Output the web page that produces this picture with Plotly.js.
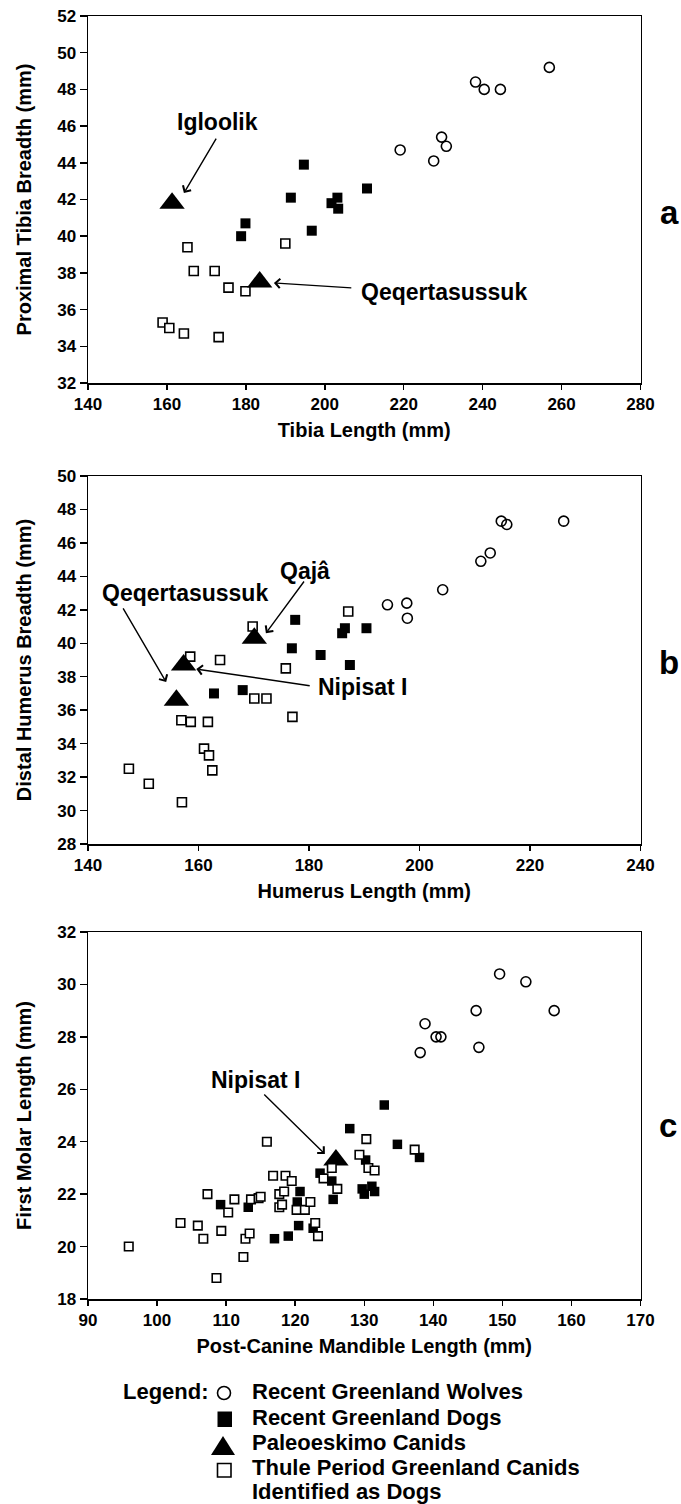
<!DOCTYPE html>
<html>
<head>
<meta charset="utf-8">
<script src="https://cdn.plot.ly/plotly-3.0.1.min.js"></script>
<style>
  html, body { margin: 0; padding: 0; background: #ffffff; }
  #chart { width: 681px; height: 1504px; }
</style>
</head>
<body>
<div id="chart"></div>
<script>
// ---------------- DATA ----------------
// Panel a: Tibia length (mm) vs proximal tibia breadth (mm)
const aWolfLen  = [219.1, 227.6, 229.6, 230.8, 238.2, 240.4, 244.5, 256.9];
const aWolfBr   = [44.7, 44.1, 45.4, 44.9, 48.4, 48.0, 48.0, 49.2];
const aDogLen   = [194.7, 191.4, 203.2, 201.7, 203.4, 210.7, 196.7, 179.9, 178.8];
const aDogBr    = [43.9, 42.1, 42.1, 41.8, 41.5, 42.6, 40.3, 40.7, 40.0];
const aThuleLen = [165.2, 166.8, 172.1, 175.6, 179.9, 190.0, 158.9, 160.6, 164.3, 173.1];
const aThuleBr  = [39.4, 38.1, 38.1, 37.2, 37.0, 39.6, 35.3, 35.0, 34.7, 34.5];
const aPaleoLen = [161.3, 183.5];
const aPaleoBr  = [41.8, 37.5];

// Panel b: Humerus length (mm) vs distal humerus breadth (mm)
const bWolfLen  = [194.2, 197.7, 197.8, 204.2, 211.1, 212.8, 214.8, 215.8, 226.1];
const bWolfBr   = [42.3, 42.4, 41.5, 43.2, 44.9, 45.4, 47.3, 47.1, 47.3];
const bDogLen   = [177.5, 176.9, 182.1, 186.5, 186.0, 190.4, 187.4, 168.0, 162.8];
const bDogBr    = [41.4, 39.7, 39.3, 40.9, 40.6, 40.9, 38.7, 37.2, 37.0];
const bThuleLen = [169.8, 187.1, 158.5, 163.9, 175.8, 170.1, 172.3, 177.0, 156.9, 158.6, 161.7, 161.0, 161.9, 162.5, 147.4, 151.0, 157.0];
const bThuleBr  = [41.0, 41.9, 39.2, 39.0, 38.5, 36.7, 36.7, 35.6, 35.4, 35.3, 35.3, 33.7, 33.3, 32.4, 32.5, 31.6, 30.5];
const bPaleoLen = [170.1, 157.3, 156.0];
const bPaleoBr  = [40.3, 38.7, 36.6];

// Panel c: Post-canine mandible length (mm) vs first molar length (mm)
const cWolfLen  = [149.6, 153.4, 146.2, 157.5, 138.8, 140.4, 141.1, 138.1, 146.6];
const cWolfM1   = [30.4, 30.1, 29.0, 29.0, 28.5, 28.0, 28.0, 27.4, 27.6];
const cDogLen   = [132.9, 127.9, 134.8, 138.0, 130.2, 123.6, 125.3, 125.5, 129.7, 130.0, 131.1, 131.5, 120.7, 120.3, 120.5, 122.6, 119.0, 117.0, 109.2, 113.2];
const cDogM1    = [25.4, 24.5, 23.9, 23.4, 23.3, 22.8, 22.5, 21.8, 22.2, 22.0, 22.3, 22.1, 22.1, 21.7, 20.8, 20.7, 20.4, 20.3, 21.6, 21.5];
const cThuleLen = [95.9, 103.4, 105.9, 106.7, 107.3, 109.3, 110.3, 111.2, 108.6, 112.5, 112.8, 113.4, 113.6, 114.7, 115.0, 115.9, 116.8, 118.6, 119.5, 117.7, 118.4, 117.7, 118.1, 120.2, 121.4, 122.2, 122.9, 123.3, 124.1, 125.3, 126.1, 129.3, 130.3, 130.6, 131.5, 137.3];
const cThuleM1  = [20.0, 20.9, 20.8, 20.3, 22.0, 20.6, 21.3, 21.8, 18.8, 19.6, 20.3, 20.5, 21.8, 21.85, 21.9, 24.0, 22.7, 22.7, 22.5, 22.0, 22.1, 21.5, 21.6, 21.4, 21.4, 21.7, 20.9, 20.4, 22.6, 23.0, 22.2, 23.5, 24.1, 23.0, 22.9, 23.7];
const cPaleoLen = [125.9];
const cPaleoM1  = [23.3];

// Tick values (labels are the same numbers)
const aXTicks = [140, 160, 180, 200, 220, 240, 260, 280];
const aYTicks = [32, 34, 36, 38, 40, 42, 44, 46, 48, 50, 52];
const bXTicks = [140, 160, 180, 200, 220, 240];
const bYTicks = [28, 30, 32, 34, 36, 38, 40, 42, 44, 46, 48, 50];
const cXTicks = [90, 100, 110, 120, 130, 140, 150, 160, 170];
const cYTicks = [18, 20, 22, 24, 26, 28, 30, 32];

// Titles / labels
const axisTitles = {
  a: ['Tibia Length (mm)', 'Proximal Tibia Breadth (mm)'],
  b: ['Humerus Length (mm)', 'Distal Humerus Breadth (mm)'],
  c: ['Post-Canine Mandible Length (mm)', 'First Molar Length (mm)']
};
const legendLabels = ['Recent Greenland Wolves', 'Recent Greenland Dogs', 'Paleoeskimo Canids',
                      'Thule Period Greenland Canids', 'Identified as Dogs'];

// ---------------- STYLE ----------------
const FONT = 'Liberation Sans, Arial, Helvetica, sans-serif';
const W = 681, H = 1504;
const px = v => v / W;            // page x px -> paper
const py = v => 1 - v / H;        // page y px -> paper

const wolfM  = s => ({symbol: 'circle-open', size: s, color: 'black', line: {width: 1.6, color: 'black'}});
const dogM   = s => ({symbol: 'square', size: s, color: 'black', line: {width: 0}});
const thuleM = s => ({symbol: 'square', size: s, color: 'white', line: {width: 1.6, color: 'black'}});
const paleoM = s => ({symbol: 'triangle-up', size: s, color: 'black', line: {width: 0}});

function tr(x, y, marker, xa, ya) {
  return {type: 'scatter', mode: 'markers', x: x, y: y, marker: marker,
          xaxis: xa, yaxis: ya, hoverinfo: 'x+y', showlegend: false, cliponaxis: false};
}

const data = [
  // a
  tr(aWolfLen, aWolfBr, wolfM(10), 'x', 'y'),
  tr(aDogLen, aDogBr, dogM(10), 'x', 'y'),
  tr(aThuleLen, aThuleBr, thuleM(9), 'x', 'y'),
  tr(aPaleoLen, aPaleoBr, paleoM(22), 'x', 'y'),
  // b
  tr(bWolfLen, bWolfBr, wolfM(10), 'x2', 'y2'),
  tr(bDogLen, bDogBr, dogM(10), 'x2', 'y2'),
  tr(bThuleLen, bThuleBr, thuleM(9), 'x2', 'y2'),
  tr(bPaleoLen, bPaleoBr, paleoM(22), 'x2', 'y2'),
  // c
  tr(cWolfLen, cWolfM1, wolfM(10), 'x3', 'y3'),
  tr(cDogLen, cDogM1, dogM(9.5), 'x3', 'y3'),
  tr(cPaleoLen, cPaleoM1, paleoM(22), 'x3', 'y3'),
  tr(cThuleLen, cThuleM1, thuleM(8.5), 'x3', 'y3')
];

const tickFont = {family: FONT, size: 17, color: 'black', weight: 700};
const titleFont = {family: FONT, size: 20, color: 'black', weight: 700};
const XDOM = [px(88), px(640.5)];
const boldText = vals => vals.map(v => '<b>' + v + '</b>');

function xax(range, ticks, title, anchor) {
  return {domain: XDOM, range: range, tickmode: 'array', tickvals: ticks, ticktext: boldText(ticks),
          anchor: anchor,
          showline: true, mirror: true, linecolor: 'black', linewidth: 1.5,
          ticks: 'outside', ticklen: 5, tickwidth: 1.5, tickcolor: 'black',
          showgrid: false, zeroline: false, tickfont: tickFont,
          title: {text: title, font: titleFont, standoff: 10}};
}
function yax(range, ticks, title, anchor, dom) {
  return {domain: dom, range: range, tickmode: 'array', tickvals: ticks, ticktext: boldText(ticks),
          anchor: anchor,
          showline: true, mirror: true, linecolor: 'black', linewidth: 1.5,
          ticks: 'outside', ticklen: 7, tickwidth: 1.5, tickcolor: 'black',
          showgrid: false, zeroline: false, tickfont: tickFont,
          title: {text: title, font: titleFont, standoff: 20}};
}

const annFont = {family: FONT, size: 23, color: 'black', weight: 700};
function label(xr, yr, x, y, text) {
  return {xref: xr, yref: yr, x: x, y: y, text: text, showarrow: false, font: annFont,
          xanchor: 'center', yanchor: 'middle'};
}
function arrow(xr, yr, tipX, tipY, tailX, tailY) {
  return {xref: xr, yref: yr, axref: xr, ayref: yr, x: tipX, y: tipY, ax: tailX, ay: tailY,
          text: '', showarrow: true, arrowhead: 4, arrowsize: 1.3, arrowwidth: 1.4,
          arrowcolor: 'black'};
}

const legFont = {family: FONT, size: 22, color: 'black', weight: 700};
const legRows = [1391, 1417, 1442, 1467, 1491];

const annotations = [
  // panel a
  label('x', 'y', 172.9, 46.2, 'Igloolik'),
  arrow('x', 'y', 164.3, 42.35, 172.7, 45.4),
  label('x', 'y', 230.1, 36.96, 'Qeqertasussuk'),
  arrow('x', 'y', 187.1, 37.45, 207.1, 37.18),
  // panel b
  label('x2', 'y2', 179.3, 44.35, 'Qajâ'),
  arrow('x2', 'y2', 172.2, 40.6, 179.3, 43.78),
  label('x2', 'y2', 157.6, 43.0, 'Qeqertasussuk'),
  arrow('x2', 'y2', 154.15, 37.68, 146.2, 42.17),
  label('x2', 'y2', 189.6, 37.39, 'Nipisat I'),
  arrow('x2', 'y2', 159.6, 38.46, 180.4, 37.45),
  // panel c
  label('x3', 'y3', 114.3, 26.35, 'Nipisat I'),
  arrow('x3', 'y3', 124.3, 23.53, 115.3, 25.86),
  // panel letters
  {xref: 'paper', yref: 'paper', x: px(669), y: py(212), text: 'a', showarrow: false,
   font: {family: FONT, size: 33, color: 'black', weight: 700}, xanchor: 'center', yanchor: 'middle'},
  {xref: 'paper', yref: 'paper', x: px(669), y: py(662), text: 'b', showarrow: false,
   font: {family: FONT, size: 33, color: 'black', weight: 700}, xanchor: 'center', yanchor: 'middle'},
  {xref: 'paper', yref: 'paper', x: px(668), y: py(1125), text: 'c', showarrow: false,
   font: {family: FONT, size: 33, color: 'black', weight: 700}, xanchor: 'center', yanchor: 'middle'},
  // legend text
  {xref: 'paper', yref: 'paper', x: px(211), y: py(legRows[0]), text: 'Legend:', showarrow: false,
   font: legFont, xanchor: 'right', yanchor: 'middle'}
];
legendLabels.forEach((t, i) => {
  annotations.push({xref: 'paper', yref: 'paper', x: px(250), y: py(legRows[i]), text: t,
    showarrow: false, font: legFont, xanchor: 'left', yanchor: 'middle'});
});

// legend keys (shapes in paper coordinates)
const shapes = [
  {type: 'circle', xref: 'paper', yref: 'paper', x0: px(217.5), x1: px(230.5), y0: py(1399.5), y1: py(1386.5),
   line: {color: 'black', width: 1.6}, fillcolor: 'white'},
  {type: 'rect', xref: 'paper', yref: 'paper', x0: px(217.5), x1: px(232), y0: py(1427), y1: py(1411.5),
   line: {width: 0}, fillcolor: 'black'},
  {type: 'path', xref: 'paper', yref: 'paper',
   path: 'M ' + px(211) + ',' + py(1455) + ' L ' + px(235) + ',' + py(1455) + ' L ' + px(223) + ',' + py(1436) + ' Z',
   line: {width: 0}, fillcolor: 'black'},
  {type: 'rect', xref: 'paper', yref: 'paper', x0: px(217.5), x1: px(231), y0: py(1477), y1: py(1463.5),
   line: {color: 'black', width: 1.6}, fillcolor: 'white'}
];

const layout = {
  width: W, height: H,
  margin: {l: 0, r: 0, t: 0, b: 0, pad: 0},
  paper_bgcolor: 'white', plot_bgcolor: 'white',
  font: {family: FONT, color: 'black'},
  showlegend: false,
  xaxis:  xax([140, 280], aXTicks, axisTitles.a[0], 'y'),
  yaxis:  yax([32, 52], aYTicks, axisTitles.a[1], 'x', [py(383), py(16)]),
  xaxis2: xax([140, 240], bXTicks, axisTitles.b[0], 'y2'),
  yaxis2: yax([28, 50], bYTicks, axisTitles.b[1], 'x2', [py(844), py(476)]),
  xaxis3: xax([90, 170], cXTicks, axisTitles.c[0], 'y3'),
  yaxis3: yax([18, 32], cYTicks, axisTitles.c[1], 'x3', [py(1299), py(932)]),
  annotations: annotations,
  shapes: shapes
};

Plotly.newPlot('chart', data, layout, {staticPlot: true, displayModeBar: false});
</script>
</body>
</html>
